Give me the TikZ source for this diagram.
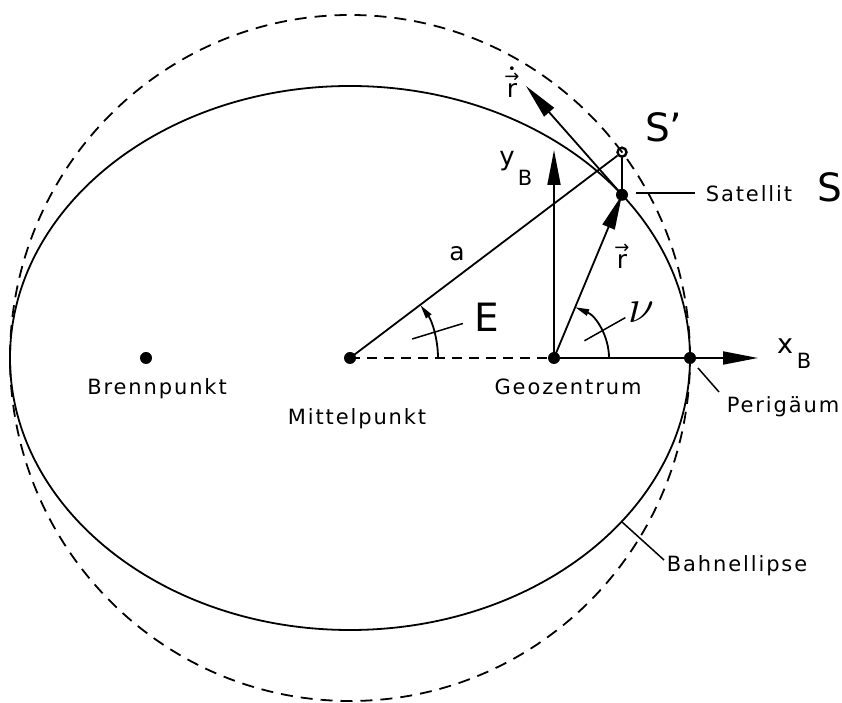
\documentclass[tikz,border=0pt]{standalone}
\usepackage{fontspec}
\setmainfont{DejaVu Sans}[LetterSpace=9]
\newfontfamily\plainfont{DejaVu Sans}
\usetikzlibrary{arrows.meta}
\newcommand{\lblsize}{\fontsize{21}{24}\selectfont}
\newcommand{\bigsize}{\plainfont\fontsize{39}{40}\selectfont}
\newcommand{\stkr}[1]{\vbox{\offinterlineskip\halign{\hfil##\hfil\cr#1\cr}}}
\begin{document}
\begin{tikzpicture}[x=1pt,y=1pt,
  orbit/.style={line width=1.8pt},
  circdash/.style={line width=1.8pt,dash pattern=on 12pt off 8pt},
  axisdash/.style={line width=1.8pt,dash pattern=on 10pt off 7pt},
  plain/.style={line width=1.8pt},
  bigarrow/.style={line width=1.8pt,-{Triangle[length=35pt,width=13pt]}},
  smallarrow/.style={line width=1.8pt,-{Triangle[length=14pt,width=6.5pt]}},
  leader/.style={line width=1.5pt},
  dotnode/.style={circle,fill=black,inner sep=0pt,minimum size=12pt},
  opendot/.style={circle,draw=black,line width=2.4pt,inner sep=0pt,minimum size=9pt},
  lbl/.style={inner sep=0pt,font=\lblsize},
  biglbl/.style={inner sep=0pt,font=\bigsize}]
\useasboundingbox (0,0) rectangle (842,703);

% curves
\draw[circdash] (350,345) ellipse [x radius=340, y radius=343];
\draw[orbit] (350,345) ellipse [x radius=340, y radius=272];

% points
\node[dotnode] (F) at (146,345) {};
\node[dotnode] (M) at (350,345) {};
\node[dotnode] (G) at (554,345) {};
\node[dotnode] (P) at (690,345) {};
\node[dotnode] (S) at (622,508.2) {};
\node[opendot] (Sp) at (622,550.8) {};
\coordinate (xB) at (758,345);
\coordinate (yB) at (554,553);
\coordinate (rdot) at (526,617);

% lines
\draw[axisdash] (M.center) -- (G.center);
\draw[bigarrow] (G.center) -- (xB);
\draw[bigarrow] (G.center) -- (yB);
\draw[plain] (M.center) -- (Sp);
\draw[plain] (Sp) -- (S.center);
\draw[bigarrow] (G.center) -- (S.center);
\draw[bigarrow] (S.center) -- (rdot);

% angles
\draw[smallarrow] ([shift={(88,0)}]M.center) arc[start angle=0,end angle=36.87,radius=88];
\draw[leader] ([shift={(17:65)}]M.center) -- ([shift={(17:118)}]M.center);
\draw[smallarrow] ([shift={(55,0)}]G.center) arc[start angle=0,end angle=67.35,radius=55];
\draw[leader] ([shift={(29.5:35)}]G.center) -- ([shift={(29.5:82)}]G.center);

% leaders
\coordinate (satA) at (636,510);
\coordinate (satB) at (695,510);
\coordinate (perA) at (698,335);
\coordinate (perB) at (719,311);
\coordinate (bahA) at (622,181);
\coordinate (bahB) at (664,143);
\draw[leader] (satA) -- (satB);
\draw[leader] (perA) -- (perB);
\draw[leader] (bahA) -- (bahB);

% labels
\node[lbl,anchor=base] (lF) at (157,308) {Brennpunkt};
\node[lbl,anchor=base] (lM) at (357,278) {Mittelpunkt};
\node[lbl,anchor=base] (lG) at (568,308) {Geozentrum};
\node[lbl,anchor=base] (lSat) at (749,501) {Satellit};
\node[lbl,anchor=base] (lPer) at (783,290) {Perigäum};
\node[lbl,anchor=base] (lBahn) at (737,131) {Bahnellipse};
\node[inner sep=0pt,font=\plainfont\fontsize{25}{28}\selectfont,anchor=base] (la) at (457,442) {a};
\node[biglbl,anchor=base] (lE) at (487,371) {E};
\node[biglbl,anchor=base west] (lSp) at (645,561) {S’};
\node[biglbl,anchor=base west] (lS) at (817,501) {S};
\node[inner sep=0pt,anchor=center] (lnu) at (641,391) {\scalebox{1.9}{\fontsize{24}{24}\selectfont$\nu$}};
\node[inner sep=0pt,anchor=center] (lr) at (622,447) {\stkr{\plainfont\fontsize{18}{18}\selectfont →\cr\noalign{\kern1pt}\plainfont\fontsize{25}{25}\selectfont r}};
\node[inner sep=0pt,anchor=center] (lrd) at (512,621) {\stkr{\plainfont\fontsize{13}{13}\selectfont •\cr\noalign{\kern-1pt}\plainfont\fontsize{18}{18}\selectfont →\cr\noalign{\kern1pt}\plainfont\fontsize{25}{25}\selectfont r}};
\node[inner sep=0pt,font=\plainfont\fontsize{26}{28}\selectfont,anchor=base] (ly) at (507,537) {y};
\node[inner sep=0pt,font=\plainfont\fontsize{21}{24}\selectfont,anchor=base] (lyB) at (525,517) {B};
\node[inner sep=0pt,font=\plainfont\fontsize{27}{28}\selectfont,anchor=base] (lx) at (785,349) {x};
\node[inner sep=0pt,font=\plainfont\fontsize{21}{24}\selectfont,anchor=base] (lxB) at (804,334) {B};
\end{tikzpicture}
\end{document}
